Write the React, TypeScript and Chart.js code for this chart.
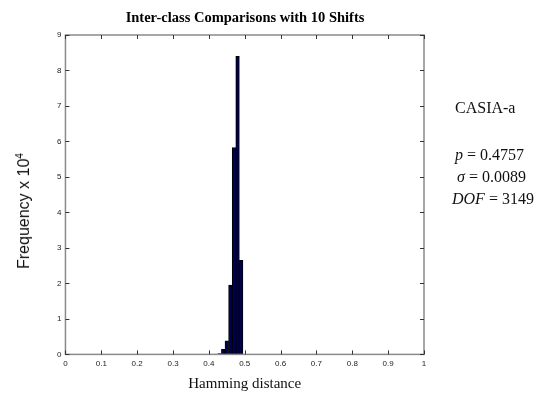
import React, { useEffect, useRef } from "react";
import { Chart, registerables } from "chart.js";

Chart.register(...registerables);

// Histogram bins (Hamming distance centers) and frequencies (x 10^4)
const binCenters = [0.42, 0.43, 0.44, 0.45, 0.46, 0.47, 0.48, 0.49];
const frequencies = [0.01, 0.02, 0.14, 0.38, 1.95, 5.83, 8.4, 2.65];

const titleText = "Inter-class Comparisons with 10 Shifts";
const xTitle = "Hamming distance";
const yTitle = "Frequency x 10";
const yTitleSup = "4";
const datasetName = "CASIA-a";
const statP = "0.4757";
const statSigma = "0.0089";
const statDOF = "3149";

const SERIF = "'Liberation Serif', 'Times New Roman', serif";
const SANS = "'Liberation Sans', Arial, sans-serif";

const boxPlugin = {
  id: "matlabBox",
  afterDraw(chart: any) {
    const { ctx, chartArea: a, scales } = chart;
    ctx.save();
    ctx.strokeStyle = "#8a8a8a";
    ctx.lineWidth = 1.5;
    ctx.strokeRect(a.left, a.top, a.right - a.left, a.bottom - a.top);
    ctx.strokeStyle = "#333";
    ctx.lineWidth = 1;
    const L = 4;
    ctx.beginPath();
    scales.x.ticks.forEach((t: any) => {
      const px = Math.round(scales.x.getPixelForValue(t.value)) + 0.5;
      ctx.moveTo(px, a.bottom);
      ctx.lineTo(px, a.bottom - L);
      ctx.moveTo(px, a.top);
      ctx.lineTo(px, a.top + L);
    });
    scales.y.ticks.forEach((t: any) => {
      const py = Math.round(scales.y.getPixelForValue(t.value)) + 0.5;
      ctx.moveTo(a.left, py);
      ctx.lineTo(a.left + L, py);
      ctx.moveTo(a.right, py);
      ctx.lineTo(a.right - L, py);
    });
    ctx.stroke();
    ctx.restore();
  },
};

export default function App() {
  const canvasRef = useRef<HTMLCanvasElement | null>(null);

  useEffect(() => {
    if (!canvasRef.current) return;
    const chart = new Chart(canvasRef.current, {
      type: "bar",
      data: {
        datasets: [
          {
            data: binCenters.map((x, i) => ({ x, y: frequencies[i] })),
            backgroundColor: "#000050",
            borderColor: "#000000",
            borderWidth: 1,
            barPercentage: 1,
            categoryPercentage: 1,
          },
        ],
      },
      options: {
        responsive: false,
        animation: false,
        layout: { padding: { left: 53, right: 128, top: 35, bottom: 10 } },
        plugins: {
          legend: { display: false },
          tooltip: { enabled: false },
          title: { display: false },
        },
        scales: {
          x: {
            type: "linear",
            min: 0,
            max: 1,
            offset: false,
            grid: { display: false, drawTicks: false },
            border: { display: false },
            ticks: {
              stepSize: 0.1,
              padding: 5,
              color: "#222",
              font: { family: SANS, size: 8 },
              maxRotation: 0,
              callback: (v: any) => String(Number(Number(v).toFixed(1))),
            },
            title: {
              display: true,
              text: xTitle,
              color: "#111",
              font: { family: SERIF, size: 15 },
              padding: { top: 1, bottom: 0 },
            },
          },
          y: {
            min: 0,
            max: 9,
            grid: { display: false, drawTicks: false },
            border: { display: false },
            ticks: {
              stepSize: 1,
              padding: 4,
              color: "#222",
              font: { family: SANS, size: 8 },
            },
            title: { display: false },
          },
        },
      },
      plugins: [boxPlugin],
    } as any);
    return () => chart.destroy();
  }, []);

  const statStyle: React.CSSProperties = {
    position: "absolute",
    fontFamily: SERIF,
    fontSize: 16,
    color: "#111",
    whiteSpace: "nowrap",
    lineHeight: "22px",
  };

  return (
    <div style={{ position: "absolute", left: 0, top: 0, width: 552, height: 403, background: "#fff" }}>
      <canvas ref={canvasRef} width={552} height={403} style={{ display: "block" }} />
      <div
        style={{
          position: "absolute",
          left: 0,
          width: 490,
          top: 7,
          textAlign: "center",
          fontFamily: SERIF,
          fontWeight: "bold",
          fontSize: 14.5,
          lineHeight: "20px",
          color: "#000",
          whiteSpace: "nowrap",
        }}
      >
        {titleText}
      </div>
      <div
        style={{
          position: "absolute",
          left: 24,
          top: 211,
          width: 0,
          height: 0,
        }}
      >
        <div
          style={{
            position: "absolute",
            left: 0,
            top: 0,
            transform: "translate(-50%, -50%) rotate(-90deg)",
            fontFamily: SANS,
            fontSize: 16,
            lineHeight: "18px",
            color: "#111",
            whiteSpace: "nowrap",
          }}
        >
          {yTitle}
          <sup style={{ fontSize: 10, verticalAlign: "6px", lineHeight: 0 }}>{yTitleSup}</sup>
        </div>
      </div>
      <div style={{ ...statStyle, left: 455, top: 97 }}>{datasetName}</div>
      <div style={{ ...statStyle, left: 455, top: 144 }}>
        <i>p</i> = {statP}
      </div>
      <div style={{ ...statStyle, left: 457, top: 166 }}>
        <i>σ</i> = {statSigma}
      </div>
      <div style={{ ...statStyle, left: 452, top: 188 }}>
        <i>DOF</i> = {statDOF}
      </div>
    </div>
  );
}
